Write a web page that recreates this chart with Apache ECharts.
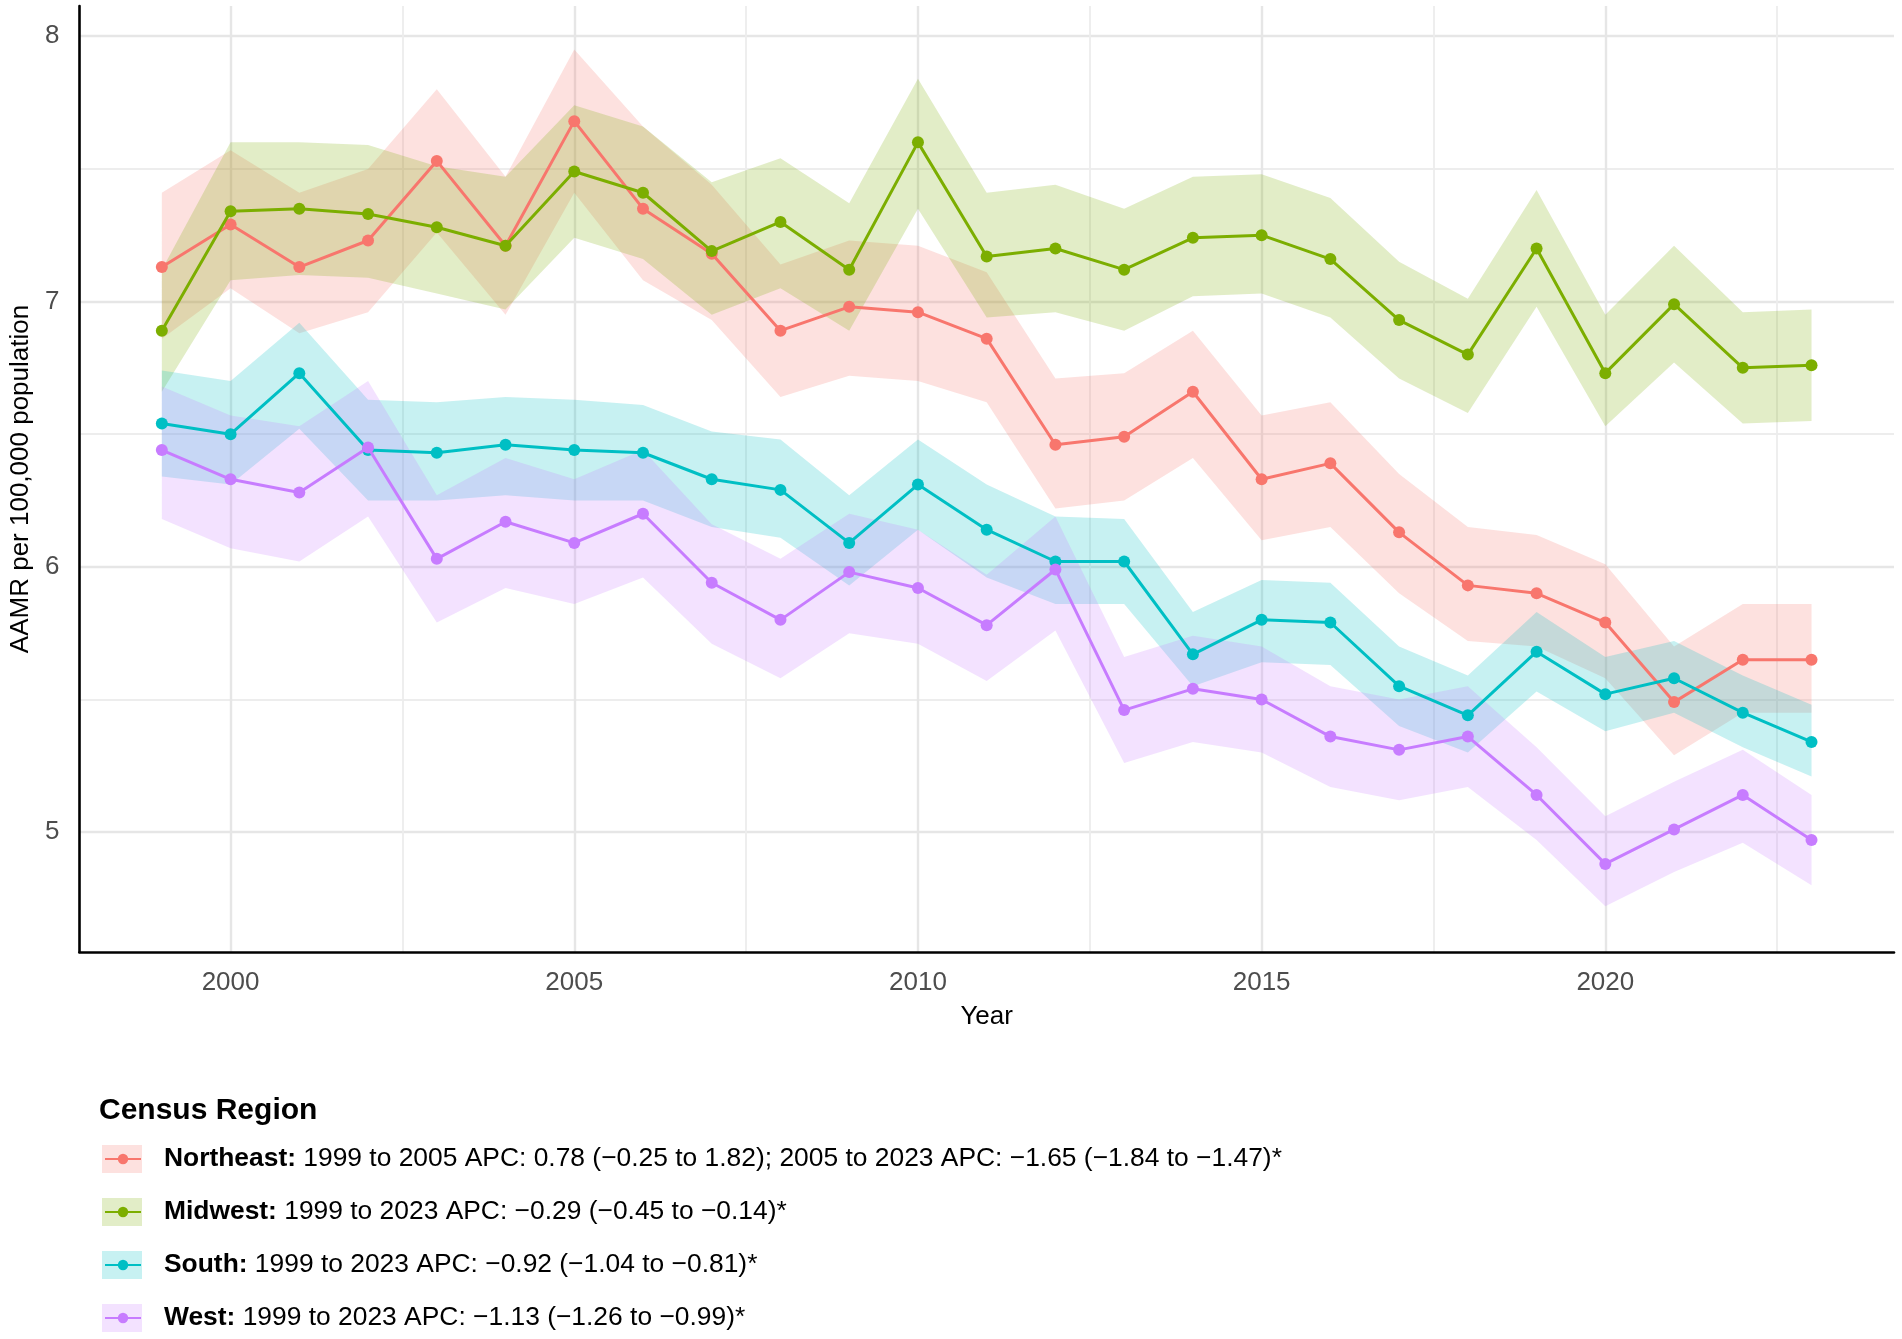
<!DOCTYPE html>
<html>
<head>
<meta charset="utf-8">
<script src="https://cdn.jsdelivr.net/npm/echarts@6/dist/echarts.min.js"></script>
<style>
html,body{margin:0;padding:0;background:#ffffff;}
#chart{width:1902px;height:1339px;}
</style>
</head>
<body>
<div id="chart"></div>
<script>
// ---------------- data ----------------
const years = [1999,2000,2001,2002,2003,2004,2005,2006,2007,2008,2009,2010,2011,2012,2013,2014,2015,2016,2017,2018,2019,2020,2021,2022,2023];

const northeast      = [7.13,7.29,7.13,7.23,7.53,7.21,7.68,7.35,7.18,6.89,6.98,6.96,6.86,6.46,6.49,6.66,6.33,6.39,6.13,5.93,5.90,5.79,5.49,5.65,5.65];
const northeastUpper = [7.41,7.57,7.41,7.50,7.80,7.47,7.95,7.66,7.44,7.14,7.23,7.21,7.11,6.71,6.73,6.89,6.57,6.62,6.35,6.15,6.12,6.01,5.70,5.86,5.86];
const northeastLower = [6.86,7.05,6.88,6.96,7.26,6.95,7.41,7.08,6.93,6.64,6.72,6.70,6.62,6.22,6.25,6.41,6.10,6.15,5.90,5.72,5.70,5.58,5.29,5.45,5.45];

const midwest        = [6.89,7.34,7.35,7.33,7.28,7.21,7.49,7.41,7.19,7.30,7.12,7.60,7.17,7.20,7.12,7.24,7.25,7.16,6.93,6.80,7.20,6.73,6.99,6.75,6.76];
const midwestUpper   = [7.12,7.60,7.60,7.59,7.51,7.47,7.74,7.66,7.45,7.54,7.37,7.84,7.41,7.44,7.35,7.47,7.48,7.39,7.15,7.01,7.42,6.95,7.21,6.96,6.97];
const midwestLower   = [6.66,7.08,7.10,7.09,7.03,6.97,7.24,7.16,6.95,7.05,6.89,7.35,6.94,6.96,6.89,7.02,7.03,6.94,6.71,6.58,6.98,6.53,6.77,6.54,6.55];

const south          = [6.54,6.50,6.73,6.44,6.43,6.46,6.44,6.43,6.33,6.29,6.09,6.31,6.14,6.02,6.02,5.67,5.80,5.79,5.55,5.44,5.68,5.52,5.58,5.45,5.34];
const southUpper     = [6.74,6.70,6.92,6.63,6.62,6.64,6.63,6.61,6.51,6.48,6.27,6.48,6.31,6.19,6.18,5.83,5.95,5.94,5.70,5.59,5.83,5.66,5.72,5.59,5.48];
const southLower     = [6.34,6.31,6.52,6.25,6.25,6.27,6.25,6.25,6.15,6.11,5.93,6.14,5.96,5.86,5.86,5.55,5.64,5.63,5.40,5.30,5.53,5.38,5.45,5.32,5.21];

const west           = [6.44,6.33,6.28,6.45,6.03,6.17,6.09,6.20,5.94,5.80,5.98,5.92,5.78,5.99,5.46,5.54,5.50,5.36,5.31,5.36,5.14,4.88,5.01,5.14,4.97];
const westUpper      = [6.68,6.57,6.53,6.70,6.27,6.41,6.33,6.44,6.16,6.03,6.20,6.14,5.97,6.19,5.66,5.74,5.70,5.55,5.50,5.55,5.32,5.06,5.19,5.31,5.14];
const westLower      = [6.18,6.07,6.02,6.19,5.79,5.92,5.86,5.96,5.71,5.58,5.75,5.71,5.57,5.76,5.26,5.34,5.30,5.17,5.12,5.17,4.97,4.72,4.85,4.96,4.80];

const regionNames = ['Northeast','Midwest','South','West'];
const legendLabels = [
  '1999 to 2005 APC: 0.78 (\u22120.25 to 1.82); 2005 to 2023 APC: \u22121.65 (\u22121.84 to \u22121.47)*',
  '1999 to 2023 APC: \u22120.29 (\u22120.45 to \u22120.14)*',
  '1999 to 2023 APC: \u22120.92 (\u22121.04 to \u22120.81)*',
  '1999 to 2023 APC: \u22121.13 (\u22121.26 to \u22120.99)*'
];
const legendTitle = 'Census Region';
const xAxisTitle = 'Year';
const yAxisTitle = 'AAMR per 100,000 population';

// ---------------- styling ----------------
const FONT = '"Liberation Sans", Arial, Helvetica, sans-serif';
const colors = ['#F8766D','#7CAE00','#00BFC4','#C77CFF'];
const ribbonFills = ['rgba(248,118,109,0.22)','rgba(124,174,0,0.22)','rgba(0,191,196,0.22)','rgba(199,124,255,0.22)'];

const values = [northeast, midwest, south, west];
const uppers = [northeastUpper, midwestUpper, southUpper, westUpper];
const lowers = [northeastLower, midwestLower, southLower, westLower];

function ribbonSeries(idx) {
  const lo = lowers[idx], hi = uppers[idx];
  return {
    type: 'custom',
    name: regionNames[idx] + ' CI',
    coordinateSystem: 'cartesian2d',
    silent: true,
    z: 1,
    data: years.map((y, i) => [y, lo[i], hi[i]]),
    encode: { x: 0, y: [1, 2] },
    renderItem: function (params, api) {
      if (params.dataIndex !== 0) return null;
      const pts = [];
      for (let i = 0; i < years.length; i++) pts.push(api.coord([years[i], hi[i]]));
      for (let i = years.length - 1; i >= 0; i--) pts.push(api.coord([years[i], lo[i]]));
      return { type: 'polygon', shape: { points: pts }, style: { fill: ribbonFills[idx] } };
    }
  };
}

function lineSeries(idx) {
  return {
    type: 'line',
    name: regionNames[idx],
    data: years.map((y, i) => [y, values[idx][i]]),
    symbol: 'circle',
    symbolSize: 12,
    showSymbol: true,
    showAllSymbol: true,
    silent: true,
    z: 3 + idx,
    lineStyle: { color: colors[idx], width: 3 },
    itemStyle: { color: colors[idx] },
    emphasis: { disabled: true }
  };
}

const series = [];
for (let i = 0; i < 4; i++) series.push(ribbonSeries(i));
for (let i = 0; i < 4; i++) series.push(lineSeries(i));

const legendKeyRects = regionNames.map((n, i) => ({
  type: 'rect',
  left: 102,
  top: 1145 + i * 53,
  shape: { width: 40, height: 28 },
  style: { fill: ribbonFills[i] },
  z: 0,
  silent: true
}));

const option = {
  animation: false,
  backgroundColor: '#ffffff',
  textStyle: { fontFamily: FONT },
  title: {
    text: legendTitle,
    left: 99,
    top: 1096,
    padding: 0,
    textStyle: { fontFamily: FONT, fontSize: 30, fontWeight: 'bold', color: '#000000', lineHeight: 30 }
  },
  grid: { left: 78, right: 8, top: 6, bottom: 387, containLabel: false },
  xAxis: {
    type: 'value',
    min: 1997.8,
    max: 2024.2,
    splitNumber: 6,
    name: xAxisTitle,
    nameLocation: 'middle',
    nameGap: 52,
    nameTextStyle: { fontFamily: FONT, fontSize: 26, color: '#000000', lineHeight: 26 },
    axisLine: { show: true, onZero: false, lineStyle: { color: '#000000', width: 2.6 } },
    axisTick: { show: false },
    axisLabel: {
      show: true, margin: 18, showMinLabel: false, showMaxLabel: false,
      fontFamily: FONT, fontSize: 26, color: '#4D4D4D', lineHeight: 26,
      formatter: v => (v % 5 === 0 ? String(v) : '')
    },
    splitLine: { show: true, showMinLine: false, showMaxLine: false, lineStyle: { color: '#E6E6E6', width: 2.4 } },
    minorTick: { show: false, splitNumber: 2 },
    minorSplitLine: { show: true, lineStyle: { color: '#EDEDED', width: 1.8 } }
  },
  yAxis: {
    type: 'value',
    min: 4.548,
    max: 8.114,
    splitNumber: 4,
    name: yAxisTitle,
    nameLocation: 'middle',
    nameGap: 44,
    nameTextStyle: { fontFamily: FONT, fontSize: 26, color: '#000000', lineHeight: 26 },
    axisLine: { show: true, onZero: false, lineStyle: { color: '#000000', width: 2.6 } },
    axisTick: { show: false },
    axisLabel: {
      show: true, margin: 20, showMinLabel: false, showMaxLabel: false,
      fontFamily: FONT, fontSize: 26, color: '#4D4D4D',
      formatter: v => (Math.abs(v - Math.round(v)) < 1e-9 ? String(Math.round(v)) : '')
    },
    splitLine: { show: true, showMinLine: false, showMaxLine: false, lineStyle: { color: '#E6E6E6', width: 2.4 } },
    minorTick: { show: false, splitNumber: 2 },
    minorSplitLine: { show: true, lineStyle: { color: '#EDEDED', width: 1.8 } }
  },
  legend: {
    orient: 'vertical',
    left: 104,
    top: 1145,
    padding: 0,
    itemWidth: 36,
    itemHeight: 13,
    itemGap: 25,
    selectedMode: false,
    data: regionNames,
    formatter: function (name) {
      const i = regionNames.indexOf(name);
      return '{b|' + name + ':} {r|' + legendLabels[i] + '}';
    },
    textStyle: {
      fontFamily: FONT, fontSize: 26.4, color: '#000000', lineHeight: 28,
      rich: {
        b: { fontFamily: FONT, fontSize: 26.4, fontWeight: 'bold', color: '#000000', lineHeight: 28, padding: [0, 0, 0, 18] },
        r: { fontFamily: FONT, fontSize: 26.4, color: '#000000', lineHeight: 28 }
      }
    },
    z: 5
  },
  graphic: { elements: legendKeyRects },
  series: series
};

const chart = echarts.init(document.getElementById('chart'), null, { renderer: 'canvas' });
chart.setOption(option);
</script>
</body>
</html>
